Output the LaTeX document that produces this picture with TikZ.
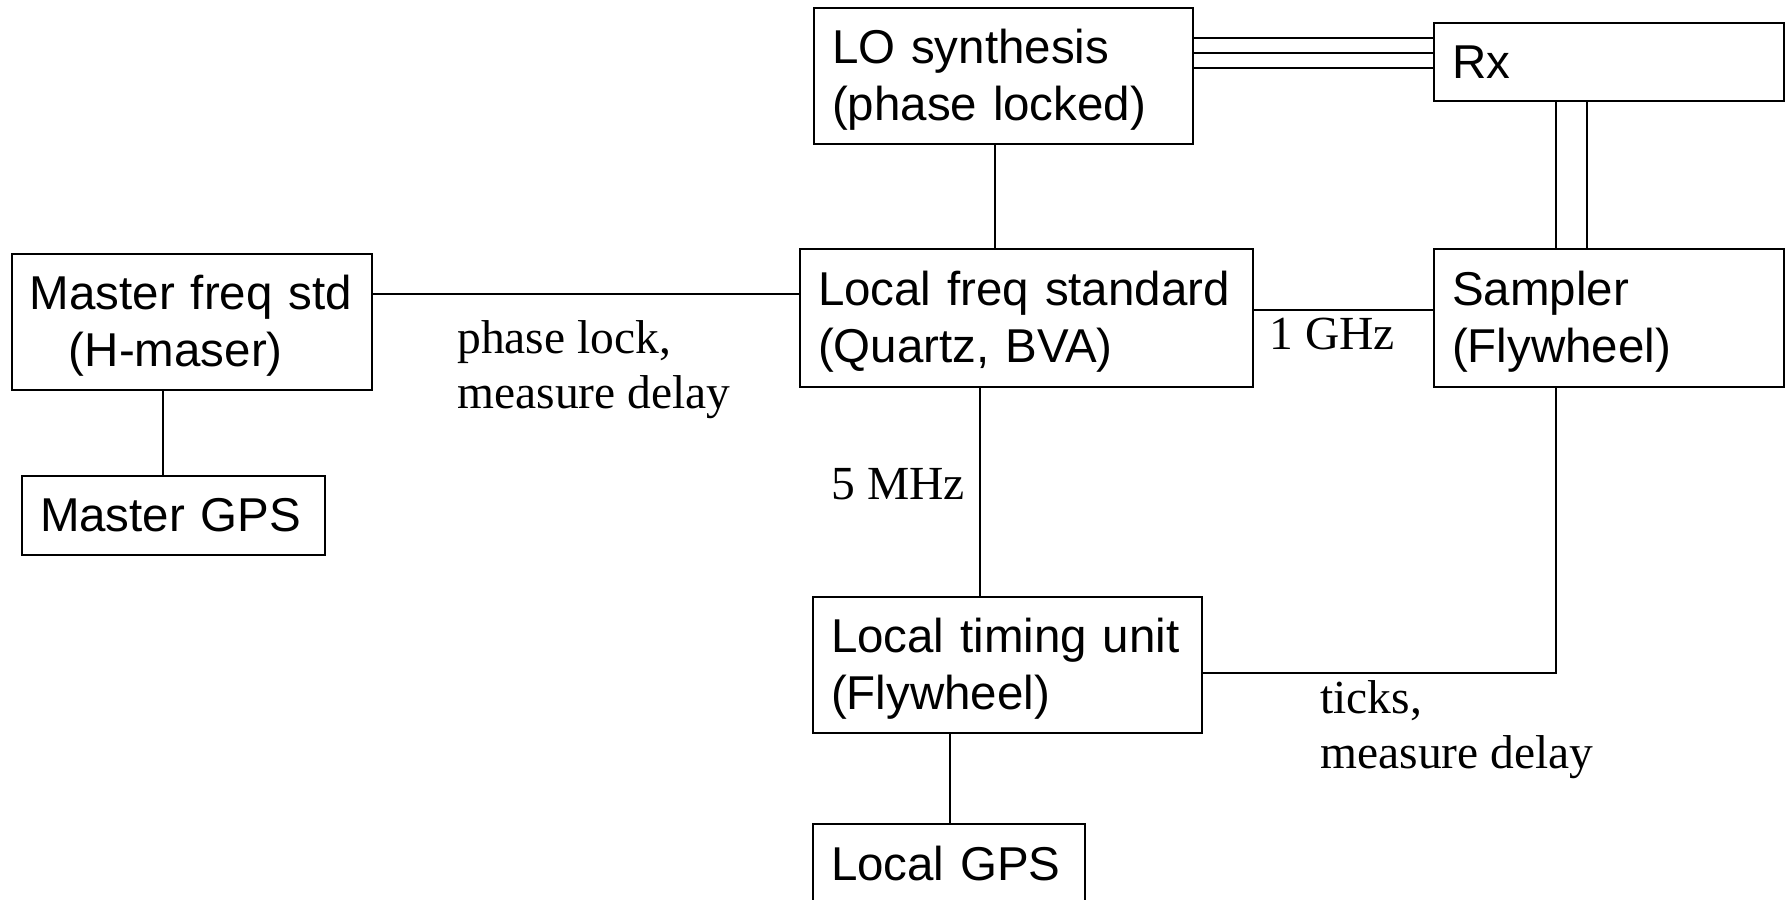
\documentclass[tikz,border=0pt]{standalone}
\usepackage{fontspec}
\setmainfont{Liberation Serif}
\setsansfont{Liberation Sans}

\tikzset{
  unit/.style={draw, line width=1pt, anchor=north west, inner xsep=9pt, inner ysep=0pt,
    align=left, font=\sffamily\fontsize{23.75}{28.5}\selectfont},
  twoline/.style={execute at begin node={\rule{0pt}{21pt}}},
  link/.style={line width=0.8pt},
  lbl/.style={anchor=north west, inner sep=0pt, align=left,
    font=\rmfamily\fontsize{23.75}{27.5}\selectfont}
}

\begin{document}
\begin{tikzpicture}[x=0.5pt,y=-0.5pt]
  \fill[white] (0,0) rectangle (1785,900);
  \useasboundingbox (0,0) rectangle (1785,900);
  \clip (0,0) rectangle (1785,900);
%  \draw [help lines] (0,0) grid[step=100] (1785,900);

  % units, corners in pixels of the sheet
  \node[unit, twoline, text width=171.5pt, minimum height=68pt] (lo) at (813,7) {LO synthesis\\(phase locked)};
  \node[unit, text width=157pt, minimum height=39pt] (rx) at (1433,22) {Rx};
  \node[unit, twoline, text width=162pt, minimum height=68pt] (master) at (11,253) {Master freq std\\\hspace*{19.5pt}(H-maser)};
  \node[unit, text width=133.5pt, minimum height=39.5pt] (mgps) at (21,475) {Master GPS};
  \node[unit, twoline, text width=208.5pt, minimum height=69pt] (lfs) at (799,248) {Local freq standard\\(Quartz, BVA)};
  \node[unit, twoline, text width=157pt, minimum height=69pt] (sampler) at (1433,248) {Sampler\\(Flywheel)};
  \node[unit, twoline, text width=176.5pt, minimum height=68pt] (ltu) at (812,596) {Local timing unit\\(Flywheel)};
  \node[unit, text width=118pt, minimum height=40pt] (lgps) at (812,823) {Local GPS};

  % links
  \draw[link] ([xshift=-4.25pt]lo.south) -- ([xshift=-4.25pt]lo.south |- lfs.north);
  \foreach \s in {12,4.5,-3} {
    \draw[link] ([yshift=\s pt]rx.west) -- ([yshift=\s pt]rx.west -| lo.east);
  }
  \foreach \s in {-26.5,-11} {
    \draw[link] ([xshift=\s pt]rx.south) -- ([xshift=\s pt]rx.south |- sampler.north);
  }
  \draw[link] ([yshift=14pt]master.east) -- ([yshift=14pt]master.east -| lfs.west);
  \draw[link] ([yshift=4pt]lfs.east) -- ([yshift=4pt]lfs.east -| sampler.west);
  \draw[link] ([xshift=-14.5pt]master.south) -- ([xshift=-14.5pt]master.south |- mgps.north);
  \draw[link] ([xshift=-23.25pt]lfs.south) -- ([xshift=-23.25pt]lfs.south |- ltu.north);
  \draw[link] ([xshift=-28.75pt]ltu.south) -- ([xshift=-28.75pt]ltu.south |- lgps.north);
  \draw[link] ([xshift=-26.5pt]sampler.south) |- ([yshift=-4pt]ltu.east);

  % labels
  \node[lbl] (lock) at (457,320) {phase lock,\\measure delay};
  \node[lbl] (ghz) at (1269,318) {1 GHz};
  \node[lbl] (mhz) at (831,468) {5 MHz};
  \node[lbl] (ticks) at (1320,680) {ticks,\\measure delay};
\end{tikzpicture}
\end{document}
